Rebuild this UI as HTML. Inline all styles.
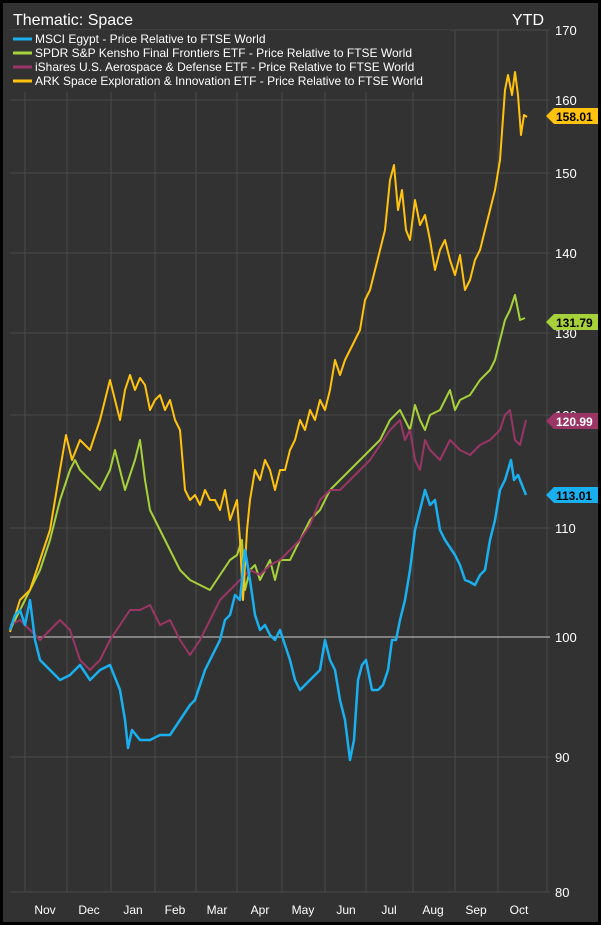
<!DOCTYPE html><html><head><style>
body{margin:0;background:#000;}
svg{display:block;font-family:"Liberation Sans",Arial,sans-serif;}
</style></head><body>
<svg width="601" height="925" viewBox="0 0 601 925">
<rect x="0" y="0" width="601" height="925" fill="#000"/>
<rect x="3" y="3" width="595" height="919" fill="#323232"/>
<g stroke="#4a4a4a" stroke-width="1">
<line x1="25" y1="88" x2="25" y2="892"/><line x1="67" y1="88" x2="67" y2="892"/><line x1="111" y1="88" x2="111" y2="892"/><line x1="155" y1="88" x2="155" y2="892"/><line x1="196" y1="88" x2="196" y2="892"/><line x1="237" y1="88" x2="237" y2="892"/><line x1="282" y1="88" x2="282" y2="892"/><line x1="325" y1="88" x2="325" y2="892"/><line x1="366" y1="88" x2="366" y2="892"/><line x1="413" y1="88" x2="413" y2="892"/><line x1="455" y1="30" x2="455" y2="892"/><line x1="498" y1="30" x2="498" y2="892"/><line x1="547" y1="30" x2="547" y2="892"/>
<line x1="10" y1="30" x2="550" y2="30"/><line x1="10" y1="100" x2="550" y2="100"/><line x1="10" y1="173" x2="550" y2="173"/><line x1="10" y1="253" x2="550" y2="253"/><line x1="10" y1="333" x2="550" y2="333"/><line x1="10" y1="415" x2="550" y2="415"/><line x1="10" y1="528" x2="550" y2="528"/><line x1="10" y1="757" x2="550" y2="757"/><line x1="10" y1="892" x2="550" y2="892"/>
</g>
<line x1="10" y1="637" x2="550" y2="637" stroke="#cfcfcf" stroke-width="1"/>
<g fill="#fff" font-size="13">
<text x="555" y="35">170</text><text x="555" y="105">160</text><text x="555" y="178">150</text><text x="555" y="258">140</text><text x="555" y="338">130</text><text x="555" y="420">120</text><text x="555" y="533">110</text><text x="555" y="642">100</text><text x="555" y="762">90</text><text x="555" y="897">80</text>
</g>
<g fill="#fff" font-size="12" text-anchor="middle">
<text x="45" y="914">Nov</text><text x="89" y="914">Dec</text><text x="133" y="914">Jan</text><text x="175" y="914">Feb</text><text x="217" y="914">Mar</text><text x="260" y="914">Apr</text><text x="303" y="914">May</text><text x="346" y="914">Jun</text><text x="389" y="914">Jul</text><text x="433" y="914">Aug</text><text x="476" y="914">Sep</text><text x="519" y="914">Oct</text>
</g>
<g fill="none" stroke-width="2" stroke-linejoin="round">
<polyline stroke="#a6d13a" points="10,630 20,610 30,590 40,570 50,540 60,500 70,470 75,460 80,470 90,480 100,490 110,470 115,450 120,470 125,490 130,475 135,460 140,440 145,480 150,510 160,530 170,550 180,570 190,580 200,585 210,590 220,575 230,560 237,555 242,540 245,590 250,570 255,565 260,580 265,570 270,560 275,580 280,560 290,560 300,540 310,520 320,510 330,490 340,480 350,470 360,460 370,450 380,440 390,420 400,410 410,430 415,405 420,420 425,430 430,415 440,410 450,390 455,410 460,400 470,395 480,380 490,370 495,360 500,340 505,320 510,310 515,295 520,320 525,318"/>
<polyline stroke="#9a3566" points="10,625 20,620 30,630 40,640 50,630 60,620 70,630 80,660 90,670 100,660 110,640 120,625 130,610 140,610 150,605 160,625 170,620 180,640 190,655 200,640 210,620 220,600 230,590 240,580 250,570 260,575 270,565 280,560 290,550 300,540 310,525 320,500 330,490 340,490 350,480 360,470 370,460 380,445 390,430 400,420 405,440 410,430 415,460 420,470 425,440 430,450 440,460 450,440 460,450 470,455 480,445 490,440 500,430 505,415 510,410 515,440 520,445 526,420"/>
<polyline stroke="#ffc20e" points="10,632 20,600 30,590 40,560 50,530 60,470 66,435 72,460 80,440 90,450 100,420 105,400 110,380 115,400 120,420 125,390 130,375 135,390 140,378 145,385 150,410 155,400 160,395 165,410 170,400 175,420 180,430 185,490 190,500 195,495 200,505 205,490 210,500 215,500 220,510 225,490 230,520 237,500 240,540 243,600 247,530 250,500 255,470 260,480 265,460 270,470 275,490 280,470 285,470 290,450 295,440 300,420 305,430 310,410 315,420 320,400 325,410 330,390 335,360 340,375 345,360 350,350 355,340 360,330 365,300 370,290 375,270 380,250 385,230 390,180 394,165 398,210 402,190 406,230 410,240 415,200 420,225 425,215 430,240 435,270 440,250 445,240 450,260 455,275 460,255 465,290 470,280 475,260 480,250 485,230 490,210 495,190 500,160 505,90 508,75 512,95 515,72 518,95 521,135 524,115 527,117"/>
<polyline stroke="#1ab0ef" stroke-width="2.5" points="10,630 15,615 20,610 25,625 30,600 35,640 40,660 50,670 60,680 70,675 80,665 90,680 100,670 110,665 120,690 125,720 128,748 132,730 140,740 150,740 160,735 170,735 180,720 190,705 195,700 200,685 205,670 210,660 215,650 220,640 225,620 230,615 235,595 240,600 245,550 250,580 255,615 260,630 265,625 270,635 275,640 280,630 285,645 290,660 295,680 300,690 310,680 320,670 325,640 330,660 335,670 340,700 345,720 350,760 354,740 358,680 362,665 366,660 372,690 378,690 383,685 388,670 392,640 396,640 400,620 405,600 410,570 415,530 420,510 425,490 430,505 435,500 440,530 445,540 455,555 460,565 465,580 470,582 475,585 480,575 485,570 490,540 495,520 500,490 505,480 508,470 511,460 514,480 518,475 522,485 526,495"/>
</g>
<g font-size="12" font-weight="bold" fill="#000">
<polygon points="546,116 554,108 598,108 598,124 554,124" fill="#ffc20e"/><text x="556" y="121">158.01</text>
<polygon points="546,322 554,314 598,314 598,330 554,330" fill="#a6d13a"/><text x="556" y="327">131.79</text>
<polygon points="546,421 554,413 598,413 598,429 554,429" fill="#9a3566"/><text x="556" y="426" fill="#fff">120.99</text>
<polygon points="546,495 554,487 598,487 598,503 554,503" fill="#1ab0ef"/><text x="556" y="500">113.01</text>
</g>
<rect x="10" y="30" width="440" height="62" fill="#323232"/>
<text x="13" y="25" fill="#fff" font-size="16">Thematic: Space</text>
<text x="512" y="25" fill="#fff" font-size="16">YTD</text>
<g stroke-width="3">
<line x1="13" y1="39" x2="32" y2="39" stroke="#1ab0ef"/><line x1="13" y1="53" x2="32" y2="53" stroke="#a6d13a"/><line x1="13" y1="67" x2="32" y2="67" stroke="#9a3566"/><line x1="13" y1="81" x2="32" y2="81" stroke="#ffc20e"/>
</g>
<g fill="#fff" font-size="12">
<text x="35" y="43">MSCI Egypt - Price Relative to FTSE World</text>
<text x="35" y="57">SPDR S&amp;P Kensho Final Frontiers ETF - Price Relative to FTSE World</text>
<text x="35" y="71">iShares U.S. Aerospace &amp; Defense ETF - Price Relative to FTSE World</text>
<text x="35" y="85">ARK Space Exploration &amp; Innovation ETF - Price Relative to FTSE World</text>
</g>
</svg>
</body></html>
